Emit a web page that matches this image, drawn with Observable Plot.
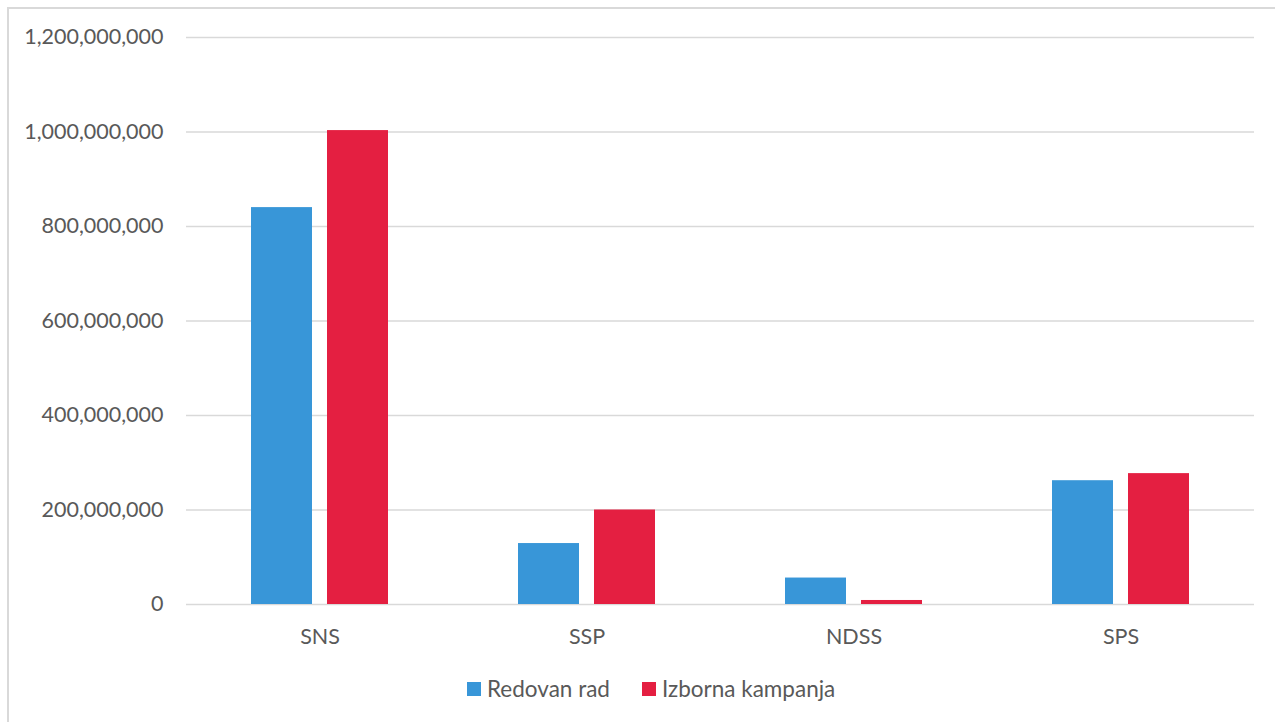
<!DOCTYPE html>
<html>
<head>
<meta charset="utf-8">
<script src="https://cdn.jsdelivr.net/npm/d3@7"></script>
<script src="https://cdn.jsdelivr.net/npm/@observablehq/plot@0.6"></script>
<style>
  html, body { margin: 0; padding: 0; background: #fff; }
  body { width: 1275px; height: 722px; position: relative; overflow: hidden; font-family: Lato, sans-serif; }
  #frame { position: absolute; left: 7px; top: 7px; width: 1300px; height: 740px; border-left: 2px solid #d9d9d9; border-top: 2px solid #d9d9d9; box-sizing: border-box; }
  #chart { position: absolute; left: 0; top: 0; }
  #legend { position: absolute; left: 467px; top: 675px; display: flex; align-items: center; font-size: 22.5px; color: #595959; }
  .item { display: flex; align-items: center; margin-right: 32px; }
  .sw { width: 14px; height: 14px; margin-right: 6px; }
</style>
</head>
<body>
<div id="frame"></div>
<div id="chart"></div>
<div id="legend"></div>
<script>
const parties = ["SNS", "SSP", "NDSS", "SPS"];
const seriesNames = ["Redovan rad", "Izborna kampanja"];
const redovanRad = [840000000, 129000000, 56000000, 262000000];
const izbornaKampanja = [1003000000, 200000000, 8500000, 277000000];
const colors = ["#3896d8", "#e41f41"];
const yTicks = [0, 200000000, 400000000, 600000000, 800000000, 1000000000, 1200000000];

const data = [];
parties.forEach((p, i) => {
  data.push({party: p, series: seriesNames[0], value: redovanRad[i]});
  data.push({party: p, series: seriesNames[1], value: izbornaKampanja[i]});
});

const plot = Plot.plot({
  width: 1275,
  height: 660,
  marginLeft: 186,
  marginRight: 21,
  marginTop: 37,
  marginBottom: 56,
  style: {fontFamily: "Lato, sans-serif", fontSize: "21.5px", color: "#595959", background: "transparent"},
  fx: {domain: parties, padding: 0, label: null, axis: "bottom", tickSize: 0, tickPadding: 24},
  x: {domain: seriesNames, axis: null, paddingInner: 0.2, paddingOuter: 0.85},
  y: {domain: [0, 1200000000], ticks: yTicks, tickFormat: d3.format(","), tickSize: 0, tickPadding: 23, label: null},
  color: {domain: seriesNames, range: colors},
  marks: [
    Plot.ruleY(yTicks, {stroke: "#d9d9d9", strokeWidth: 1.5}),
    Plot.barY(data, {fx: "party", x: "series", y: "value", fill: "series", insetLeft: 0, insetRight: 0})
  ]
});
document.getElementById("chart").appendChild(plot);

const legend = document.getElementById("legend");
seriesNames.forEach((s, i) => {
  const item = document.createElement("div");
  item.className = "item";
  const sw = document.createElement("div");
  sw.className = "sw";
  sw.style.background = colors[i];
  const t = document.createElement("span");
  t.textContent = s;
  item.appendChild(sw);
  item.appendChild(t);
  legend.appendChild(item);
});
</script>
</body>
</html>
